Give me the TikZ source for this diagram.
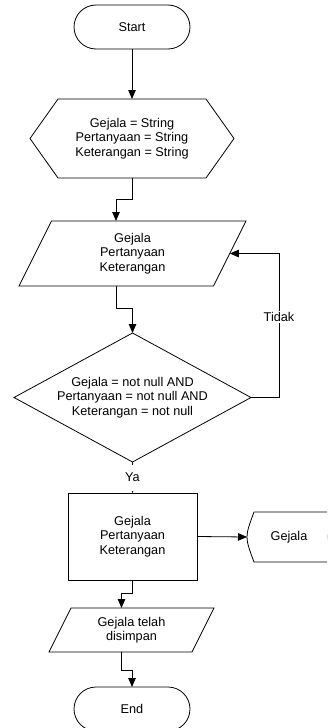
\documentclass[tikz,border=0pt]{standalone}
\usepackage{fontspec}
\setmainfont{Liberation Sans}
\usetikzlibrary{arrows.meta}
\begin{document}
\begin{tikzpicture}[x=1pt,y=-1pt,
  every node/.style={font=\fontsize{12.7}{14.5}\selectfont, align=center, inner sep=0pt, outer sep=0pt},
  line/.style={draw=black, line width=0.8pt},
  arr/.style={line, -{Triangle[length=9pt,width=7.5pt]}},
  term/.style={line, rounded corners=22pt, minimum width=116pt, minimum height=44pt},
  lbl/.style={fill=white, inner sep=1.5pt}
]
\useasboundingbox (0,0) rectangle (327,728);
\clip (0,0) rectangle (327,728);

% nodes
\node[term] (start) at (132,27) {Start};
\node[minimum width=204pt, minimum height=79pt] (hex) at (132,138.5)
  {Gejala = String\\Pertanyaan = String\\Keterangan = String};
\node[minimum width=227pt, minimum height=65pt] (p1) at (132.5,253.5)
  {Gejala\\Pertanyaan\\Keterangan};
\node[minimum width=237pt, minimum height=129pt] (dia) at (132.5,397.5)
  {Gejala = not null AND\\Pertanyaan = not null AND\\Keterangan = not null};
\node[line, minimum width=129pt, minimum height=87pt] (rect) at (132.5,536.5)
  {Gejala\\Pertanyaan\\Keterangan};
\node[minimum width=89pt, minimum height=50pt] (st) at (291.5,537) {\hspace*{-5pt}Gejala};
\node[minimum width=165pt, minimum height=44pt] (p2) at (131.5,630)
  {Gejala telah\\disimpan};
\node[term] (end) at (132,709) {End};

% outlines
\draw[line] ([xshift=28pt]hex.north west) -- ([xshift=-28pt]hex.north east) -- (hex.east)
  -- ([xshift=-28pt]hex.south east) -- ([xshift=28pt]hex.south west) -- (hex.west) -- cycle;
\draw[line] ([xshift=32.5pt]p1.north west) -- (p1.north east)
  -- ([xshift=-32.5pt]p1.south east) -- (p1.south west) -- cycle;
\draw[line] (dia.north) -- (dia.east) -- (dia.south) -- (dia.west) -- cycle;
\draw[line] ([xshift=22pt]p2.north west) -- (p2.north east)
  -- ([xshift=-22pt]p2.south east) -- (p2.south west) -- cycle;
\draw[line] ([xshift=7pt]st.north west) -- (st.north east)
  .. controls ([xshift=-11.5pt]st.east) .. (st.south east)
  -- ([xshift=7pt]st.south west)
  .. controls ([xshift=-2.33pt]st.west) .. ([xshift=7pt]st.north west);

% connectors
\draw[arr] (start.south) -- (hex.north);
\draw[arr] (hex.south) -- ++(0,21) -| ([xshift=-16.5pt]p1.north);
\draw[arr] ([xshift=-16.5pt]p1.south) -- ++(0,22) -| (dia.north);
\draw[arr] (dia.east) -- ++(28,0) |- ([xshift=-16.25pt]p1.east)
  node[lbl, pos=0.28] {Tidak};
\draw[arr] (dia.south) -- node[lbl, minimum height=26pt] {Ya} (rect.north);
\draw[arr] (rect.east) -- (st.west);
\draw[arr] (rect.south) -- ++(0,13) -| ([xshift=-10pt]p2.north);
\draw[arr] ([xshift=-10pt]p2.south) -- ++(0,18) -| (end.north);
\end{tikzpicture}
\end{document}
